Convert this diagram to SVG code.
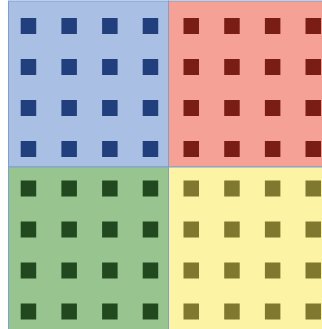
<svg xmlns="http://www.w3.org/2000/svg" width="322" height="329" viewBox="0 0 322 329">
<style>
.q{stroke:#7f9fcf;stroke-width:1}
.b{fill:#a9bfe4}.r{fill:#f5a196}.g{fill:#98c58f}.y{fill:#fdf3a4}
.sb{fill:#213f7c}.sr{fill:#7a1e15}.sg{fill:#224820}.sy{fill:#7f782e}
</style>
<defs>
<g id="grid">
<rect x="0" y="0" width="15.5" height="16"/><rect x="40.7" y="0" width="15.5" height="16"/><rect x="81.4" y="0" width="15.5" height="16"/><rect x="122" y="0" width="15.5" height="16"/>
<rect x="0" y="41" width="15.5" height="16"/><rect x="40.7" y="41" width="15.5" height="16"/><rect x="81.4" y="41" width="15.5" height="16"/><rect x="122" y="41" width="15.5" height="16"/>
<rect x="0" y="82" width="15.5" height="16"/><rect x="40.7" y="82" width="15.5" height="16"/><rect x="81.4" y="82" width="15.5" height="16"/><rect x="122" y="82" width="15.5" height="16"/>
<rect x="0" y="123" width="15.5" height="16"/><rect x="40.7" y="123" width="15.5" height="16"/><rect x="81.4" y="123" width="15.5" height="16"/><rect x="122" y="123" width="15.5" height="16"/>
</g>
</defs>
<rect width="322" height="329" fill="#ffffff"/>
<g id="blue"><rect class="q b" x="8.5" y="1" width="160" height="166"/><use href="#grid" class="sb" x="20.7" y="18"/></g>
<g id="red"><rect class="q r" x="168.5" y="1" width="160" height="166"/><use href="#grid" class="sr" x="183.5" y="18"/></g>
<g id="green"><rect class="q g" x="8.5" y="167" width="160" height="166"/><use href="#grid" class="sg" x="20.7" y="180.5"/></g>
<g id="yellow"><rect class="q y" x="168.5" y="167" width="160" height="166"/><use href="#grid" class="sy" x="183.5" y="180.5"/></g>
</svg>
